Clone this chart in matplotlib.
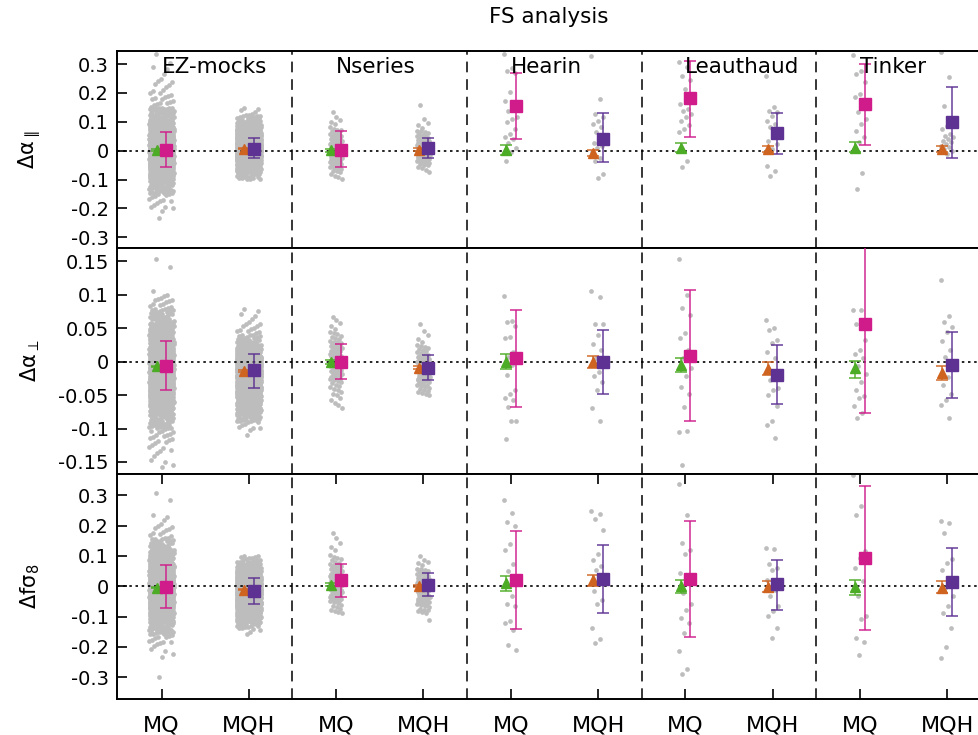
import matplotlib
matplotlib.use("Agg")
import matplotlib.pyplot as plt
import numpy as np

plt.rcParams["font.family"] = ["DejaVu Sans"]
plt.rcParams["axes.unicode_minus"] = False

GROUPS = ["EZ-mocks", "Nseries", "Hearin", "Leauthaud", "Tinker"]
FITS = ["MQ", "MQH"]

GREY = "#bdbdbd"
GREEN = "#4dac26"
ORANGE = "#cf6320"
MAGENTA = "#d01c8b"
PURPLE = "#5e3292"

# ---- grey clouds: EZ-mocks / Nseries given as histograms (lo, bin width, counts)
APAR_EZ_MQ = (-0.25, 0.05, [3, 12, 55, 150, 260, 270, 160, 60, 15, 8, 4, 1])
APAR_EZ_MQH = (-0.125, 0.025, [1, 20, 70, 140, 200, 210, 170, 110, 55, 20, 4])
APAR_NS_MQ = (-0.1, 0.025, [4, 8, 12, 16, 16, 12, 8, 5, 2, 1])
APAR_NS_MQH = (-0.075, 0.025, [4, 12, 20, 21, 14, 8, 3, 1, 0, 1])

APERP_EZ_MQ = (-0.18, 0.02, [2, 4, 8, 15, 35, 70, 120, 165, 185, 165, 115, 65, 30, 14, 1, 0, 1])
APERP_EZ_MQH = (-0.13, 0.01, [1, 0, 2, 6, 22, 35, 50, 70, 90, 115, 135, 135, 120, 95, 60, 30, 14, 8, 5, 3, 2])
APERP_NS_MQ = (-0.07, 0.02, [5, 9, 16, 22, 18, 10, 4])
APERP_NS_MQH = (-0.05, 0.02, [14, 28, 26, 12, 3, 1])

FS8_EZ_MQ = (-0.32, 0.04, [2, 0, 3, 12, 40, 95, 160, 210, 205, 150, 80, 28, 10, 5, 0, 1])
FS8_EZ_MQH = (-0.18, 0.02, [1, 3, 15, 40, 75, 110, 140, 155, 150, 125, 90, 55, 30, 12])
FS8_NS_MQ = (-0.09, 0.04, [10, 18, 24, 18, 9, 3, 2])
FS8_NS_MQH = (-0.12, 0.03, [1, 9, 16, 20, 20, 12, 5, 1])

# ---- grey clouds: individual mocks
apar_hearin_mq = [0.335, 0.285, 0.277, 0.27, 0.202, 0.173, 0.15, 0.139, 0.115, 0.11,
                  0.098, 0.075, 0.057, 0.046, 0.04, 0.025, 0.01, -0.005, -0.035]
apar_hearin_mqh = [0.329, 0.179, 0.127, 0.115, 0.104, 0.092, 0.081, 0.063, 0.052, 0.04,
                   0.028, 0.017, 0.01, -0.006, -0.024, -0.035, -0.082, -0.093]
apar_leau_mq = [0.306, 0.289, 0.26, 0.243, 0.214, 0.161, 0.144, 0.138, 0.127, 0.115,
                0.104, 0.09, 0.075, 0.063, -0.035, -0.058]
apar_leau_mqh = [0.26, 0.15, 0.139, 0.133, 0.121, 0.104, 0.092, 0.081, 0.069, 0.052,
                 0.035, 0.023, 0.006, -0.053, -0.07, -0.087]
apar_tinker_mq = [0.332, 0.277, 0.266, 0.237, 0.196, 0.185, 0.15, 0.133, 0.11, 0.092,
                  0.069, 0.046, 0.029, 0.006, -0.076, -0.134]
apar_tinker_mqh = [0.341, 0.254, 0.156, 0.11, 0.086, 0.075, 0.057, 0.052, 0.046, 0.04,
                   0.035, 0.029, 0.022, 0.017, 0.012, 0.006, 0.0, -0.012]

aperp_hearin_mq = [0.0985, 0.0615, 0.06, 0.053, 0.037, 0.035, 0.015, 0.007, 0.0, -0.005,
                   -0.02, -0.043, -0.048, -0.054, -0.058, -0.068, -0.088, -0.088, -0.115]
aperp_hearin_mqh = [0.105, 0.096, 0.057, 0.056, 0.04, 0.027, 0.017, 0.005, -0.005, -0.015,
                    -0.022, -0.03, -0.043, -0.07, -0.088]
aperp_leau_mq = [0.154, 0.1, 0.081, 0.07, 0.043, 0.035, 0.018, 0.005, -0.01, -0.022,
                 -0.038, -0.049, -0.068, -0.105, -0.104, -0.154]
aperp_leau_mqh = [0.063, 0.05, 0.047, 0.033, 0.028, 0.015, 0.005, -0.028, -0.04, -0.043,
                  -0.05, -0.067, -0.088, -0.095, -0.114]
aperp_tinker_mq = [0.077, 0.077, 0.057, 0.032, 0.018, 0.012, 0.005, -0.007, -0.018, -0.03,
                   -0.043, -0.052, -0.055, -0.066, -0.077, -0.084]
aperp_tinker_mqh = [0.122, 0.069, 0.06, 0.052, 0.045, 0.031, 0.018, 0.007, -0.003, -0.023,
                    -0.035, -0.048, -0.057, -0.065, -0.084]

fs8_hearin_mq = [0.285, 0.243, 0.212, 0.199, 0.138, 0.121, 0.072, 0.05, 0.011, -0.033,
                 -0.06, -0.066, -0.116, -0.121, -0.143, -0.193, -0.212]
fs8_hearin_mqh = [0.248, 0.237, 0.223, 0.184, 0.105, 0.088, 0.066, 0.055, 0.033, 0.006,
                  -0.016, -0.044, -0.06, -0.138, -0.173, -0.188]
fs8_leau_mq = [0.337, 0.235, 0.144, 0.121, 0.105, 0.044, 0.022, -0.022, -0.06, -0.077,
               -0.105, -0.121, -0.154, -0.213, -0.274, -0.289]
fs8_leau_mqh = [0.127, 0.124, 0.072, 0.061, 0.055, 0.022, -0.011, -0.033, -0.066, -0.083,
                -0.099, -0.138, -0.171]
fs8_tinker_mq = [0.367, 0.263, 0.235, 0.116, 0.094, 0.061, 0.017, -0.033, -0.099, -0.108,
                 -0.171, -0.185, -0.226]
fs8_tinker_mqh = [0.215, 0.21, 0.177, 0.09, 0.077, 0.055, 0.028, -0.006, -0.033, -0.066,
                  -0.088, -0.138, -0.2, -0.237]

# ---- mean (triangle) and median-of-fits (square) with lower / upper bounds
# order: EZ MQ, EZ MQH, Nseries MQ, Nseries MQH, Hearin ..., Leauthaud ..., Tinker ...
apar_tri = [0.002, 0.006, 0.001, 0.003, 0.002, -0.009, 0.009, 0.005, 0.01, 0.006]
apar_tri_lo = [0.0, 0.004, -0.004, -0.002, -0.014, -0.02, -0.006, -0.006, -0.006, -0.004]
apar_tri_hi = [0.004, 0.008, 0.006, 0.008, 0.018, 0.003, 0.025, 0.016, 0.03, 0.016]
apar_sq = [0.002, 0.007, 0.003, 0.009, 0.155, 0.042, 0.181, 0.06, 0.16, 0.098]
apar_sq_lo = [-0.057, -0.027, -0.058, -0.027, 0.039, -0.041, 0.048, -0.01, 0.019, -0.026]
apar_sq_hi = [0.065, 0.043, 0.069, 0.045, 0.268, 0.13, 0.312, 0.131, 0.30, 0.219]

aperp_tri = [-0.007, -0.014, 0.0, -0.009, 0.0, 0.0, -0.005, -0.011, -0.009, -0.017]
aperp_tri_lo = [-0.008, -0.015, -0.003, -0.011, -0.011, -0.009, -0.016, -0.02, -0.025, -0.028]
aperp_tri_hi = [-0.006, -0.013, 0.003, -0.007, 0.011, 0.009, 0.006, -0.001, 0.001, -0.007]
aperp_sq = [-0.006, -0.013, 0.0, -0.009, 0.005, 0.0, 0.009, -0.02, 0.056, -0.0045]
aperp_sq_lo = [-0.042, -0.039, -0.026, -0.028, -0.068, -0.048, -0.089, -0.064, -0.077, -0.054]
aperp_sq_hi = [0.031, 0.011, 0.026, 0.01, 0.078, 0.047, 0.107, 0.025, 0.19, 0.045]

fs8_tri = [-0.005, -0.011, 0.005, 0.0, 0.009, 0.022, 0.002, -0.003, -0.003, -0.005]
fs8_tri_lo = [-0.007, -0.013, 0.0, -0.004, -0.015, -0.001, -0.024, -0.02, -0.03, -0.024]
fs8_tri_hi = [-0.003, -0.009, 0.01, 0.004, 0.032, 0.036, 0.022, 0.016, 0.02, 0.018]
fs8_sq = [-0.002, -0.016, 0.019, 0.005, 0.022, 0.025, 0.024, 0.006, 0.094, 0.015]
fs8_sq_lo = [-0.073, -0.06, -0.036, -0.033, -0.14, -0.087, -0.168, -0.078, -0.143, -0.099]
fs8_sq_hi = [0.07, 0.028, 0.074, 0.045, 0.182, 0.136, 0.215, 0.088, 0.332, 0.125]

# R2 low-discrepancy constants, used only to scatter the points sideways
R2_A1 = 0.7548776662
R2_A2 = 0.5698402910


def cloud_points(cloud, half_width):
    """Return x offsets and y values for one grey cloud."""
    if isinstance(cloud, tuple):
        lo, step, counts = cloud
        counts = np.array(counts, dtype=float)
        cum = np.concatenate([[0.0], np.cumsum(counts)])
        n = int(cum[-1])
        idx = np.arange(n)
        u = ((0.5 + idx * R2_A2) % 1.0) * n
        b = np.searchsorted(cum, u, side="right") - 1
        y = lo + step * (b + (u - cum[b]) / counts[b])
        dx = ((0.5 + idx * R2_A1) % 1.0 - 0.5) * 2 * half_width
        return dx, y
    y = np.array(cloud)
    dx = ((np.arange(len(y)) * 0.6180339887) % 1.0 - 0.5) * 2 * half_width
    return dx, y


def draw_panel(ax, clouds, tri, sq, ylim, yticks):
    x = np.arange(1, 11)
    for i, cloud in enumerate(clouds):
        hw = 0.14 if i < 2 else 0.075
        dx, y = cloud_points(cloud, hw)
        ax.plot(x[i] + dx, y, "o", ms=3.4, color=GREY, mec="none", zorder=1)

    for k, (tc, sc) in enumerate([(GREEN, MAGENTA), (ORANGE, PURPLE)]):
        xs = x[k::2]
        for (v, lo, hi), col, mk, ms, dx in [(tri, tc, "^", 6.5, -0.055), (sq, sc, "s", 8, 0.055)]:
            v = np.array(v)[k::2]
            lo = np.array(lo)[k::2]
            hi = np.array(hi)[k::2]
            eb = ax.errorbar(xs + dx, v, yerr=[v - lo, hi - v], fmt=mk, color=col, ms=ms,
                             mec=col, capsize=4, elinewidth=1.3, capthick=1.3, zorder=4)
            for art in list(eb[1]) + list(eb[2]):
                art.set_alpha(0.8)

    ax.axhline(0, color="black", lw=1.2, ls=(0, (1.5, 2.2)), zorder=2)
    for xd in (2.5, 4.5, 6.5, 8.5):
        ax.axvline(xd, color="black", lw=1.1, ls=(0, (7, 4.5)), zorder=2)

    ax.set_xlim(0.49, 10.364)
    ax.set_ylim(*ylim)
    ax.set_yticks(yticks)
    ax.set_yticklabels([f"{t:g}" for t in yticks])
    ax.tick_params(axis="y", direction="in", length=7, width=1.2, labelsize=14, pad=6)
    ax.spines["right"].set_visible(False)
    for s in ("left", "top", "bottom"):
        ax.spines[s].set_linewidth(1.4)
    return ax


fig = plt.figure(figsize=(9.79, 7.35), dpi=100)
ax1 = fig.add_axes([0.1195, 0.6626, 0.8805, 0.2680])
ax2 = fig.add_axes([0.1195, 0.3551, 0.8805, 0.3075])
ax3 = fig.add_axes([0.1195, 0.0490, 0.8805, 0.3061])

draw_panel(
    ax1,
    [APAR_EZ_MQ, APAR_EZ_MQH, APAR_NS_MQ, APAR_NS_MQH, apar_hearin_mq, apar_hearin_mqh,
     apar_leau_mq, apar_leau_mqh, apar_tinker_mq, apar_tinker_mqh],
    (apar_tri, apar_tri_lo, apar_tri_hi), (apar_sq, apar_sq_lo, apar_sq_hi),
    (-0.337, 0.345), [-0.3, -0.2, -0.1, 0, 0.1, 0.2, 0.3],
)
draw_panel(
    ax2,
    [APERP_EZ_MQ, APERP_EZ_MQH, APERP_NS_MQ, APERP_NS_MQH, aperp_hearin_mq, aperp_hearin_mqh,
     aperp_leau_mq, aperp_leau_mqh, aperp_tinker_mq, aperp_tinker_mqh],
    (aperp_tri, aperp_tri_lo, aperp_tri_hi), (aperp_sq, aperp_sq_lo, aperp_sq_hi),
    (-0.168, 0.170), [-0.15, -0.1, -0.05, 0, 0.05, 0.1, 0.15],
)
draw_panel(
    ax3,
    [FS8_EZ_MQ, FS8_EZ_MQH, FS8_NS_MQ, FS8_NS_MQH, fs8_hearin_mq, fs8_hearin_mqh,
     fs8_leau_mq, fs8_leau_mqh, fs8_tinker_mq, fs8_tinker_mqh],
    (fs8_tri, fs8_tri_lo, fs8_tri_hi), (fs8_sq, fs8_sq_lo, fs8_sq_hi),
    (-0.372, 0.370), [-0.3, -0.2, -0.1, 0, 0.1, 0.2, 0.3],
)

for ax in (ax1, ax2):
    ax.set_xticks([])
ax3.set_xticks(np.arange(1, 11))
ax3.set_xticklabels(FITS * len(GROUPS))
ax3.tick_params(axis="x", direction="in", length=7, width=1.2, labelsize=16, pad=12,
                top=True, bottom=True)

for i, name in enumerate(GROUPS):
    ax1.text(1 + 2 * i, 0.27, name, ha="left", va="baseline", fontsize=15.5, zorder=5)

for ax, lab in [(ax1, r"Δα$_{\parallel}$"), (ax2, r"Δα$_{\perp}$"), (ax3, r"Δfσ$_8$")]:
    pos = ax.get_position()
    fig.text(0.031, pos.y0 + pos.height / 2, lab, rotation=90, ha="center", va="center",
             fontsize=15)

fig.text(0.561, 0.977, "FS analysis", ha="center", va="center", fontsize=15.5)

fig.savefig("out.png", dpi=100)
plt.close(fig)
